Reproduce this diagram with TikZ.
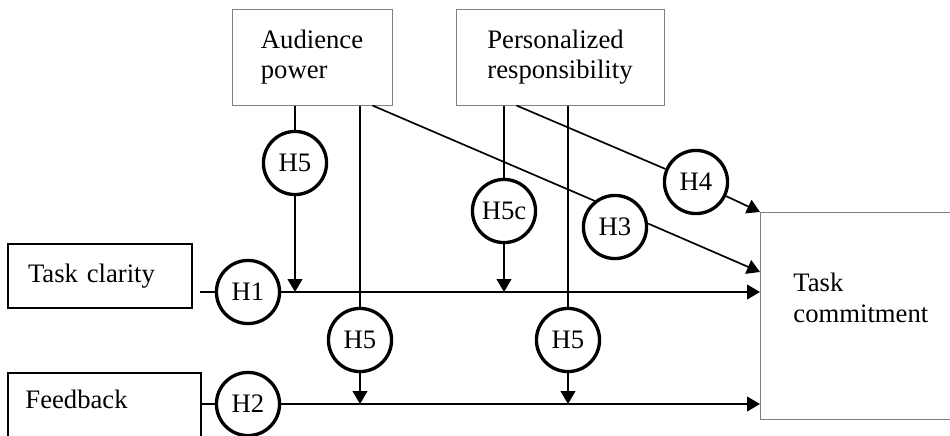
\documentclass[tikz,border=0pt]{standalone}
\usepackage{fontspec}
\setmainfont{Liberation Serif}
\usetikzlibrary{arrows.meta,positioning,calc}

\begin{document}
\begin{tikzpicture}[
  x=0.45pt, y=-0.45pt,
  font=\fontsize{12}{13.8}\selectfont,
  ln/.style={line width=0.75pt},
  arr/.style={-{Triangle[length=5.8pt,width=6.6pt]}, line width=0.75pt},
  hyp/.style={circle, draw, line width=1.5pt, minimum size=28.4pt, inner sep=0pt},
  varbox/.style={draw=gray, line width=0.45pt, align=left},
  inbox/.style={draw=black, line width=0.9pt, align=left, anchor=north west},
]
\useasboundingbox (0,0) rectangle (950,435);
\clip (0,0) rectangle (950,435);
% moderators on top
\node[varbox, minimum width=72pt, minimum height=43.2pt] (ap) at (312,57) {Audience\\power};
\node[varbox, minimum width=93.6pt, minimum height=43.2pt] (pr) at (560,57) {Personalized\\responsibility};
% inputs
\node[inbox, inner xsep=9pt, text width=65pt, minimum height=28.8pt] (tcl) at (7,243) {Task clarity};
\node[inbox, minimum width=86.85pt, minimum height=40pt] (fb) at (7,372) {};
\node[anchor=base west, inner sep=0pt] (fbt) at (25,408) {Feedback};
% outcome
\node[varbox, anchor=north west, minimum width=108pt, minimum height=93.15pt] (tc) at (760,212) {};
\node[anchor=north west, inner sep=0pt, align=left] (tct) at (793,273) {Task\\commitment};
% hypotheses
\node[hyp] (h1) at (248,292) {H1};
\node[hyp] (h2) at (248,404) {H2};
\node[hyp] (h3) at (615,227) {H3};
\node[hyp] (h4) at (696,182) {H4};
\node[hyp] (h5a) at (295,163) {H5};
\node[hyp] (h5b) at (360,340) {H5};
\node[hyp] (h5c) at (504,211) {H5c};
\node[hyp] (h5d) at (568,340) {H5};
% main effects
\draw[ln, shorten <=3pt] (tcl.east |- h1) -- (h1);
\draw[arr] (h1) -- (h1 -| tc.west);
\draw[ln] (fb.east |- h2) -- (h2);
\draw[arr] (h2) -- (h2 -| tc.west);
% audience power
\draw[ln] (ap.south -| h5a) -- (h5a);
\draw[arr] (h5a) -- (h5a |- h1);
\draw[ln] (ap.south -| h5b) -- (h5b);
\draw[arr] (h5b) -- (h5b |- h2);
\coordinate (ap3) at ($(ap.south east)+(-20,0)$);
\coordinate (tc3) at ($(tc.north west)+(0,60)$);
\draw[ln] (ap3) -- (h3.128);
\draw[arr] (h3.6) -- (tc3);
% personalized responsibility
\draw[ln] (pr.south -| h5c) -- (h5c);
\draw[arr] (h5c) -- (h5c |- h1);
\draw[ln] (pr.south -| h5d) -- (h5d);
\draw[arr] (h5d) -- (h5d |- h2);
\coordinate (pr4) at ($(pr.south west)+(61,0)$);
\draw[ln] (pr4) -- (h4);
\draw[arr] (h4) -- (tc.north west);
\end{tikzpicture}
\end{document}
